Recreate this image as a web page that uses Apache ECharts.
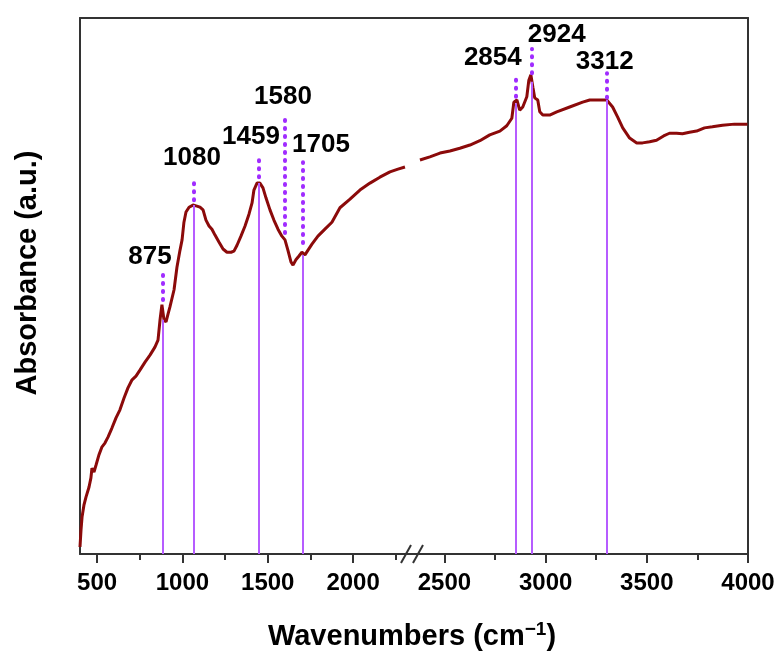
<!DOCTYPE html>
<html>
<head>
<meta charset="utf-8">
<script src="https://cdn.jsdelivr.net/npm/echarts@6/dist/echarts.min.js"></script>
<style>
  html, body { margin: 0; padding: 0; background: #fff; }
  #chart { width: 783px; height: 654px; }
</style>
</head>
<body>
<div id="chart"></div>
<script>
// FTIR spectrum, broken wavenumber axis (two scales)
const leftWn = [400, 406, 412, 423, 435, 453, 464, 470, 482, 494, 511, 529, 546, 564, 587, 611, 634, 658, 681, 705, 728, 751, 781, 810, 839, 857, 869, 880, 892, 904, 916, 927, 951, 968, 986, 998, 1009, 1021, 1039, 1062, 1085, 1103, 1121, 1138, 1156, 1173, 1191, 1214, 1238, 1261, 1285, 1302, 1320, 1343, 1367, 1390, 1408, 1419, 1437, 1454, 1472, 1490, 1513, 1536, 1560, 1583, 1601, 1618, 1636, 1648, 1665, 1683, 1700, 1718, 1736, 1759, 1794, 1835, 1876, 1923, 1982, 2040, 2099, 2157, 2216, 2263, 2304]
const leftAbs = [0.013, 0.045, 0.069, 0.091, 0.106, 0.125, 0.142, 0.160, 0.153, 0.166, 0.185, 0.200, 0.207, 0.218, 0.235, 0.254, 0.269, 0.291, 0.310, 0.325, 0.332, 0.343, 0.358, 0.371, 0.386, 0.399, 0.437, 0.465, 0.437, 0.433, 0.448, 0.461, 0.493, 0.535, 0.567, 0.586, 0.619, 0.638, 0.647, 0.651, 0.649, 0.647, 0.642, 0.623, 0.612, 0.606, 0.595, 0.582, 0.569, 0.563, 0.563, 0.565, 0.576, 0.593, 0.612, 0.634, 0.655, 0.679, 0.692, 0.692, 0.683, 0.664, 0.642, 0.623, 0.606, 0.593, 0.586, 0.567, 0.545, 0.539, 0.549, 0.556, 0.563, 0.558, 0.567, 0.578, 0.593, 0.606, 0.619, 0.646, 0.662, 0.679, 0.692, 0.703, 0.713, 0.718, 0.722]
const rightWn = [2379, 2428, 2478, 2527, 2576, 2626, 2675, 2724, 2774, 2808, 2833, 2843, 2858, 2872, 2887, 2907, 2917, 2927, 2937, 2946, 2961, 2971, 2986, 3020, 3055, 3119, 3183, 3218, 3267, 3302, 3331, 3356, 3381, 3415, 3450, 3479, 3514, 3548, 3583, 3612, 3647, 3676, 3711, 3746, 3785, 3824, 3874, 3933, 3997]
const rightAbs = [0.735, 0.741, 0.748, 0.752, 0.757, 0.763, 0.771, 0.782, 0.789, 0.799, 0.813, 0.843, 0.847, 0.828, 0.834, 0.853, 0.884, 0.894, 0.871, 0.851, 0.847, 0.825, 0.819, 0.819, 0.825, 0.834, 0.843, 0.847, 0.847, 0.847, 0.834, 0.815, 0.795, 0.776, 0.767, 0.767, 0.769, 0.772, 0.780, 0.785, 0.785, 0.784, 0.787, 0.789, 0.795, 0.797, 0.800, 0.802, 0.802]

// peak markers
const peakText = ['875', '1080', '1459', '1580', '1705', '2854', '2924', '3312']
const peakPos = [884, 1064, 1445, 1601, 1705, 2851, 2930, 3300]
const peakTop = [0.437, 0.651, 0.692, null, 0.558, 0.841, 0.881, 0.847]
const dotFrom = [0.474, 0.660, 0.703, 0.599, 0.580, 0.853, 0.897, 0.851]
const dotTo = [0.524, 0.701, 0.744, 0.813, 0.731, 0.897, 0.942, 0.897]
const labelWn = [810, 1056, 1402, 1589, 1812, 2739, 3055, 3292]
const labelAbs = [0.554, 0.739, 0.778, 0.853, 0.763, 0.925, 0.968, 0.918]

const breakAt = 2310
const leftMajor = [500, 1000, 1500, 2000]
const leftMinor = [750, 1250, 1750, 2250]
const rightMajor = [2500, 3000, 3500, 4000]
const rightMinor = [2750, 3250, 3750]

const curveColor = '#8b0a0a'
const frameColor = '#333'
const solidColor = '#b65cff'
const dotColor = '#a02cff'
const font = 'Liberation Sans, Arial, sans-serif'

function zip(a, b) { return a.map((v, i) => [v, b[i]]) }

function marks(left) {
  const out = []
  peakPos.forEach((x, i) => {
    if ((x < breakAt) !== left) return
    if (peakTop[i] != null) {
      out.push([{ coord: [x, 0], lineStyle: { color: solidColor, width: 2, type: 'solid' } }, { coord: [x, peakTop[i]] }])
    }
    out.push([{ coord: [x, dotFrom[i]], lineStyle: { color: dotColor, width: 4, type: [1, 7], cap: 'round' } }, { coord: [x, dotTo[i]] }])
  })
  return out
}

function labels(left) {
  const out = []
  peakText.forEach((t, i) => {
    if ((peakPos[i] < breakAt) !== left) return
    out.push({ value: [labelWn[i], labelAbs[i]], name: t })
  })
  return out
}

function xAxes(grid, min, max, major, minor) {
  return [{
    type: 'value', gridIndex: grid, min: min, max: max, position: 'bottom',
    splitLine: { show: false },
    axisLine: { show: true, onZero: false, lineStyle: { color: frameColor, width: 2 } },
    axisTick: { show: true, customValues: major, length: 9, lineStyle: { color: frameColor, width: 2 } },
    axisLabel: {
      show: true, customValues: major, margin: 17, color: '#000', fontSize: 24, fontWeight: 'bold', fontFamily: font,
      formatter: v => String(v)
    }
  }, {
    type: 'value', gridIndex: grid, min: min, max: max, position: 'bottom',
    splitLine: { show: false },
    axisLine: { show: false },
    axisTick: { show: true, customValues: minor, length: 6, lineStyle: { color: frameColor, width: 2 } },
    axisLabel: { show: false }
  }, {
    type: 'value', gridIndex: grid, min: min, max: max, position: 'top',
    splitLine: { show: false },
    axisLine: { show: true, onZero: false, lineStyle: { color: frameColor, width: 2 } },
    axisTick: { show: false }, axisLabel: { show: false }
  }]
}

const peakLabel = { show: true, position: 'inside', formatter: '{b}', color: '#000', opacity: 1, fontSize: 26, fontWeight: 'bold', fontFamily: font }

const chart = echarts.init(document.getElementById('chart'))
chart.setOption({
  animation: false,
  backgroundColor: '#fff',
  grid: [
    { left: 80, top: 18, width: 326, height: 536, outerBoundsMode: 'none' },
    { left: 406, top: 18, width: 342, height: 536, outerBoundsMode: 'none' }
  ],
  xAxis: [].concat(xAxes(0, 400, breakAt, leftMajor, leftMinor), xAxes(1, breakAt, 4000, rightMajor, rightMinor)),
  yAxis: [{
    type: 'value', gridIndex: 0, min: 0, max: 1, position: 'left',
    splitLine: { show: false },
    axisLine: { show: true, onZero: false, lineStyle: { color: frameColor, width: 2 } },
    axisTick: { show: false }, axisLabel: { show: false }
  }, {
    type: 'value', gridIndex: 1, min: 0, max: 1, position: 'right',
    splitLine: { show: false },
    axisLine: { show: true, onZero: false, lineStyle: { color: frameColor, width: 2 } },
    axisTick: { show: false }, axisLabel: { show: false }
  }],
  series: [{
    type: 'line', xAxisIndex: 0, yAxisIndex: 0, data: zip(leftWn, leftAbs),
    showSymbol: false, z: 3,
    lineStyle: { color: curveColor, width: 3 },
    markLine: { silent: true, symbol: ['none', 'none'], label: { show: false }, data: marks(true) }
  }, {
    type: 'line', xAxisIndex: 3, yAxisIndex: 1, data: zip(rightWn, rightAbs),
    showSymbol: false, z: 3,
    lineStyle: { color: curveColor, width: 3 },
    markLine: { silent: true, symbol: ['none', 'none'], label: { show: false }, data: marks(false) }
  }, {
    type: 'scatter', xAxisIndex: 0, yAxisIndex: 0, symbolSize: 0, itemStyle: { opacity: 1 }, data: labels(true), label: peakLabel
  }, {
    type: 'scatter', xAxisIndex: 3, yAxisIndex: 1, symbolSize: 0, itemStyle: { opacity: 1 }, data: labels(false), label: peakLabel
  }],
  graphic: [
    { type: 'line', shape: { x1: 401, y1: 563, x2: 411, y2: 545 }, style: { stroke: frameColor, lineWidth: 2 }, z: 10 },
    { type: 'line', shape: { x1: 413, y1: 563, x2: 423, y2: 545 }, style: { stroke: frameColor, lineWidth: 2 }, z: 10 },
    {
      type: 'text', x: 28, y: 273, rotation: Math.PI / 2, z: 10,
      style: {
        text: 'Absorbance (a.u.)', align: 'center', verticalAlign: 'middle',
        fontSize: 29, fontWeight: 'bold', fontFamily: font, fill: '#000'
      }
    },
    {
      type: 'text', x: 412, y: 637, z: 10,
      style: {
        text: '{a|Wavenumbers (cm}{s|−1}{a|)}',
        align: 'center', verticalAlign: 'middle',
        rich: {
          a: { fontSize: 29, fontWeight: 'bold', fontFamily: font, fill: '#000' },
          s: { fontSize: 19, fontWeight: 'bold', fontFamily: font, fill: '#000', padding: [0, 0, 15, 0] }
        }
      }
    }
  ]
})
</script>
</body>
</html>
